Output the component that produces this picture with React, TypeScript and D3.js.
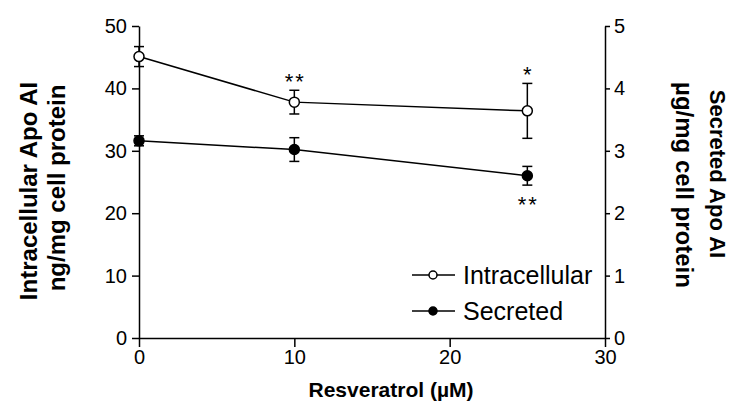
import React, { useRef, useEffect } from "react";
import * as d3 from "d3";

const doses = [0, 10, 25];
const intraMean = [45.1, 37.8, 36.4];
const intraErr = [1.6, 1.9, 4.4];
const secMean = [3.16, 3.02, 2.6];
const secErr = [0.08, 0.19, 0.15];
const intraSig = ["", "**", "*"];
const secSig = ["", "", "**"];
const seriesNames = ["Intracellular", "Secreted"];
const leftTicks = [0, 10, 20, 30, 40, 50];
const rightTicks = [0, 1, 2, 3, 4, 5];
const xTicks = [0, 10, 20, 30];

const FONT = "'Liberation Sans', Arial, Helvetica, sans-serif";

const App = () => {
  const svgRef = useRef<SVGSVGElement>(null);

  const width = 732;
  const height = 413;
  const marginLeft = 139;
  const marginRight = 127;
  const marginTop = 26;
  const marginBottom = 75;

  useEffect(() => {
    const svg = d3.select(svgRef.current);
    svg.selectAll("*").remove();

    const x = d3.scaleLinear().domain([0, 30]).range([marginLeft, width - marginRight]);
    const yL = d3.scaleLinear().domain([0, 50]).range([height - marginBottom, marginTop]);
    const yR = d3.scaleLinear().domain([0, 5]).range([height - marginBottom, marginTop]);

    // axes
    const styleAxis = (g) => {
      g.selectAll("path, line").attr("stroke", "#000").attr("stroke-width", 1.5);
      g.selectAll("text").attr("font-family", FONT).attr("font-size", 20).attr("fill", "#000");
    };

    svg.append("g")
      .attr("transform", `translate(0,${yL(0)})`)
      .call(d3.axisBottom(x).tickValues(xTicks).tickSize(9).tickSizeOuter(0).tickPadding(3))
      .call(styleAxis);

    svg.append("g")
      .attr("transform", `translate(${x(0)},0)`)
      .call(d3.axisLeft(yL).tickValues(leftTicks).tickSize(7).tickSizeOuter(0).tickPadding(5))
      .call(styleAxis);

    svg.append("g")
      .attr("transform", `translate(${x(30)},0)`)
      .call(d3.axisRight(yR).tickValues(rightTicks).tickFormat(d3.format("d")).tickSize(5).tickSizeOuter(0).tickPadding(4))
      .call(styleAxis);

    // series
    const series = [
      { name: seriesNames[0], y: yL, mean: intraMean, err: intraErr, sig: intraSig, fill: "#fff", up: true },
      { name: seriesNames[1], y: yR, mean: secMean, err: secErr, sig: secSig, fill: "#000", up: false },
    ];

    series.forEach((s) => {
      const pts = doses.map((d, i) => ({ d, m: s.mean[i], e: s.err[i], sig: s.sig[i] }));
      const g = svg.append("g");

      g.append("path")
        .datum(pts)
        .attr("fill", "none")
        .attr("stroke", "#000")
        .attr("stroke-width", 1.5)
        .attr("d", d3.line<any>().x((p) => x(p.d)).y((p) => s.y(p.m)));

      const eb = g.selectAll(".eb").data(pts).join("g");
      eb.append("line")
        .attr("x1", (p) => x(p.d)).attr("x2", (p) => x(p.d))
        .attr("y1", (p) => s.y(p.m - p.e)).attr("y2", (p) => s.y(p.m + p.e))
        .attr("stroke", "#000").attr("stroke-width", 1.5);
      [-1, 1].forEach((k) => {
        eb.append("line")
          .attr("x1", (p) => x(p.d) - 5).attr("x2", (p) => x(p.d) + 5)
          .attr("y1", (p) => s.y(p.m + k * p.e)).attr("y2", (p) => s.y(p.m + k * p.e))
          .attr("stroke", "#000").attr("stroke-width", 1.5);
      });

      g.selectAll("circle").data(pts).join("circle")
        .attr("cx", (p) => x(p.d))
        .attr("cy", (p) => s.y(p.m))
        .attr("r", 5)
        .attr("fill", s.fill)
        .attr("stroke", "#000")
        .attr("stroke-width", 1.5);

      // significance stars
      g.selectAll(".sig").data(pts.filter((p) => p.sig)).join("text")
        .attr("x", (p) => x(p.d) + 1)
        .attr("y", (p) => (s.up ? s.y(p.m + p.e) - 13 : s.y(p.m - p.e) + 15) + 12)
        .attr("text-anchor", "middle")
        .attr("font-family", FONT)
        .attr("font-size", 22)
        .attr("letter-spacing", 2)
        .text((p) => p.sig);
    });

    // legend
    const legend = svg.append("g").attr("transform", "translate(412,275)");
    series.forEach((s, i) => {
      const row = legend.append("g").attr("transform", `translate(0,${i * 36})`);
      row.append("line").attr("x1", 0).attr("x2", 43).attr("y1", 0).attr("y2", 0)
        .attr("stroke", "#000").attr("stroke-width", 1.5);
      row.append("circle").attr("cx", 21).attr("cy", 0).attr("r", 4)
        .attr("fill", s.fill).attr("stroke", "#000").attr("stroke-width", 1.5);
      row.append("text").attr("x", 51).attr("y", 9)
        .attr("font-family", FONT).attr("font-size", 25)
        .text(s.name);
    });

    // axis titles
    const title = (tx, ty, rot, size, txt) =>
      svg.append("text")
        .attr("transform", `translate(${tx},${ty}) rotate(${rot})`)
        .attr("text-anchor", "middle")
        .attr("font-family", FONT)
        .attr("font-weight", "bold")
        .attr("font-size", size)
        .text(txt);

    title(37, 191, -90, 24, "Intracellular Apo AI");
    title(65, 188, -90, 24, "ng/mg cell protein");
    title(710, 174, 90, 22, "Secreted Apo AI");
    title(676, 185, 90, 24, "\u00b5g/mg cell protein");
    title(391, 397, 0, 21, "Resveratrol (\u00b5M)");
  }, []);

  return (
    <svg
      ref={svgRef}
      width={width}
      height={height}
      style={{ position: "absolute", left: 0, top: 0, background: "#fff" }}
    />
  );
};

export default App;
